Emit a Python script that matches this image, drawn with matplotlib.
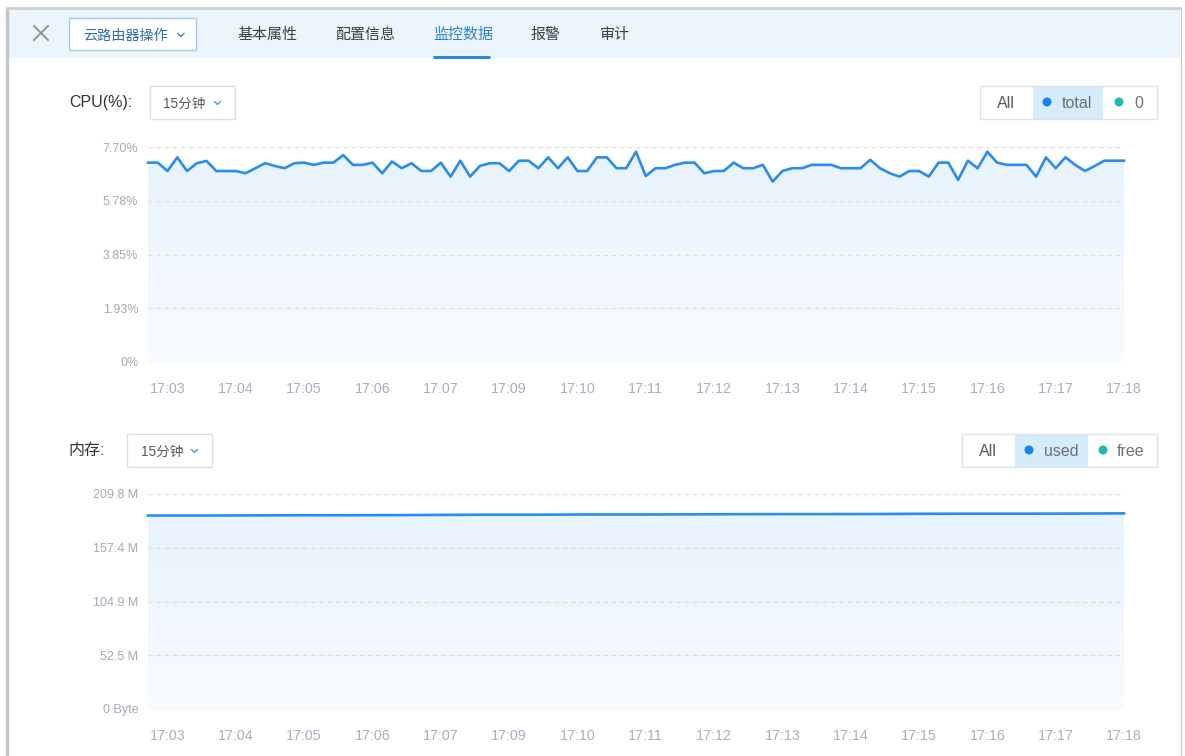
import numpy as np
import matplotlib
matplotlib.use("Agg")
import matplotlib.pyplot as plt
from matplotlib.patches import Rectangle, Circle
from matplotlib.colors import LinearSegmentedColormap

plt.rcParams['font.family'] = ['Liberation Sans', 'Noto Sans CJK SC', 'DejaVu Sans']

# ---- data ----
time_labels = ['17:03', '17:04', '17:05', '17:06', '17:07', '17:09', '17:10', '17:11',
               '17:12', '17:13', '17:14', '17:15', '17:16', '17:17', '17:18']
label_idx = [2, 9, 16, 23, 30, 37, 44, 51, 58, 65, 72, 79, 86, 93, 100]

cpu_total = [7.14, 7.14, 6.84, 7.33, 6.84, 7.12, 7.20, 6.84, 6.84, 6.84,
             6.76, 6.94, 7.12, 7.02, 6.94, 7.12, 7.14, 7.06, 7.14, 7.14,
             7.41, 7.06, 7.06, 7.14, 6.76, 7.18, 6.94, 7.12, 6.84, 6.84,
             7.14, 6.64, 7.21, 6.64, 7.02, 7.12, 7.12, 6.84, 7.21, 7.21,
             6.94, 7.33, 6.94, 7.33, 6.84, 6.84, 7.33, 7.33, 6.94, 6.94,
             7.53, 6.66, 6.94, 6.94, 7.06, 7.14, 7.14, 6.76, 6.84, 6.84,
             7.14, 6.94, 6.94, 7.06, 6.46, 6.84, 6.94, 6.94, 7.06, 7.06,
             7.06, 6.94, 6.94, 6.94, 7.24, 6.94, 6.76, 6.64, 6.84, 6.84,
             6.64, 7.14, 7.14, 6.52, 7.21, 6.94, 7.53, 7.14, 7.06, 7.06,
             7.06, 6.64, 7.33, 6.94, 7.33, 7.06, 6.84, 7.02, 7.21, 7.21,
             7.21]
cpu_ticks = [0, 1.925, 3.85, 5.775, 7.70]
cpu_ticklabels = ['0%', '1.93%', '3.85%', '5.78%', '7.70%']

mem_idx = [0, 5, 10, 15, 20, 25, 30, 35, 40, 45, 50,
           55, 60, 65, 70, 75, 80, 85, 90, 95, 100]
mem_used = [188.8, 188.8, 188.9, 189.1, 189.1, 189.2, 189.4, 189.6, 189.6, 189.8, 189.8,
            189.9, 190.1, 190.2, 190.2, 190.3, 190.5, 190.6, 190.6, 190.7, 190.9]
mem_ticks = [0, 52.45, 104.9, 157.35, 209.8]
mem_ticklabels = ['0 Byte', '52.5 M', '104.9 M', '157.4 M', '209.8 M']

tabs = ['基本属性', '配置信息', '监控数据', '报警', '审计']

# ---- figure ----
W, H = 1185, 756
fig = plt.figure(figsize=(W / 100, H / 100), dpi=100)
fig.patch.set_facecolor('white')

ui = fig.add_axes([0, 0, 1, 1], zorder=0)
ui.set_xlim(0, W)
ui.set_ylim(H, 0)
ui.axis('off')

# frame + header
ui.add_patch(Rectangle((8, 9), 1172, 49, facecolor='#ebf5fe', edgecolor='none'))
ui.plot([6.5, 6.5], [8, H], color='#c4c4c4', lw=2.5, solid_capstyle='butt')
ui.plot([6, 1181], [8, 8], color='#cfcfcf', lw=2.0, solid_capstyle='butt')
ui.plot([1180.5, 1180.5], [8, H], color='#cfcfcf', lw=1.0)

# close mark
ui.plot([34, 48], [26, 40], color='#8a8f99', lw=1.3)
ui.plot([34, 48], [40, 26], color='#8a8f99', lw=1.3)

def chevron(x, y, c):
    ui.plot([x - 3, x, x + 3], [y - 1.5, y + 1.5, y - 1.5], color=c, lw=0.9)

# operation button
ui.add_patch(Rectangle((68.5, 17.5), 127, 32, facecolor='white', edgecolor='#a9c9ec', lw=1.0))
ui.text(83, 35.5, '云路由器操作', fontsize=10.2, color='#2e6cb5', va='center', ha='left',
        family='Noto Sans CJK SC')
chevron(181, 35, '#2e6cb5')

tab_x = [237, 335, 433, 530, 600]
for t, tx in zip(tabs, tab_x):
    col = '#2f7fd6' if t == '监控数据' else '#3a3f48'
    ui.text(tx, 35, t, fontsize=10.8, color=col, va='center', ha='left',
            family='Noto Sans CJK SC')
ui.plot([433, 490], [57, 57], color='#2b88e0', lw=2.2, solid_capstyle='butt')

def dropdown(x0, x1, y0, y1):
    ui.add_patch(Rectangle((x0, y0), x1 - x0, y1 - y0, facecolor='white',
                           edgecolor='#dcdfe6', lw=1.0))
    ui.text(x0 + 14, (y0 + y1) / 2 + 1.5, '15分钟', fontsize=9.8, color='#555a63',
            va='center', ha='left')
    chevron(x1 - 17, (y0 + y1) / 2 + 1, '#4a88d6')

def legend_box(x0, x1, xd1, xd2, y0, y1, names, name_x, dot_x):
    ym = (y0 + y1) / 2
    ui.add_patch(Rectangle((xd1, y0), xd2 - xd1, y1 - y0, facecolor='#d6ecfd',
                           edgecolor='none'))
    ui.add_patch(Rectangle((x0, y0), x1 - x0, y1 - y0, facecolor='none',
                           edgecolor='#dde1e8', lw=1.0))
    ui.text((x0 + xd1) / 2, ym + 1, 'All', fontsize=11.5, color='#555a63', ha='center', va='center')
    for nm, nx, dx, c in zip(names, name_x, dot_x, ['#1a84ee', '#22b8b0']):
        ui.add_patch(Circle((dx, ym), 4.5, facecolor=c, edgecolor='none'))
        ui.text(nx, ym + 1, nm, fontsize=11.5, color='#6b7079', ha='left', va='center')

# CPU header
ui.text(69, 102, 'CPU(%):', fontsize=11.5, color='#333333', va='center', ha='left')
dropdown(149.5, 234.5, 85.5, 118.5)
legend_box(979.5, 1156.5, 1033, 1103, 85.5, 118.5, ['total', '0'], [1062, 1134], [1047, 1119])

# memory header
ui.text(68, 450.5, '内存:', fontsize=11.5, color='#333333', va='center', ha='left')
dropdown(126.5, 211.5, 433.5, 466.5)
legend_box(961.5, 1156.5, 1015, 1088, 433.5, 466.5, ['used', 'free'], [1044, 1117], [1029, 1103])

grad = LinearSegmentedColormap.from_list('g', ['#f8fbff', '#e8f3fd'])

def chart(bottom_px, xs, ys, ticks, ticklabels, ytop):
    ax = fig.add_axes([148 / W, 1 - bottom_px / H, 976 / W, 215 / H], zorder=2)
    ax.patch.set_alpha(0)
    fill = ax.fill_between(xs, ys, 0, color='none')
    im = ax.imshow(np.linspace(0, 1, 256).reshape(-1, 1), cmap=grad, origin='lower',
                   extent=[0, 100, 0, max(ys)], aspect='auto', zorder=1)
    im.set_clip_path(fill.get_paths()[0], transform=ax.transData)
    ax.plot(xs, ys, color='#2a8cec', lw=1.9, zorder=3, solid_joinstyle='round',
            clip_on=False)
    ax.set_xlim(0, 100)
    ax.set_ylim(0, ytop)
    ax.set_yticks(ticks)
    ax.set_yticklabels(ticklabels)
    ax.set_xticks(label_idx)
    ax.set_xticklabels(time_labels)
    ax.grid(axis='y', color='#dedede', ls=(0, (3.5, 3)), lw=0.9, zorder=2)
    ax.set_axisbelow(False)
    for s in ax.spines.values():
        s.set_visible(False)
    ax.tick_params(axis='y', length=0, pad=7, labelsize=9, labelcolor='#a3aab5')
    ax.tick_params(axis='x', length=0, pad=14.5, labelsize=10.3, labelcolor='#a6b0c2')
    return ax

chart(362, np.arange(len(cpu_total)), cpu_total, cpu_ticks, cpu_ticklabels, 7.70)
chart(709, mem_idx, mem_used, mem_ticks, mem_ticklabels, 209.8)

fig.savefig('out.png', dpi=100)
